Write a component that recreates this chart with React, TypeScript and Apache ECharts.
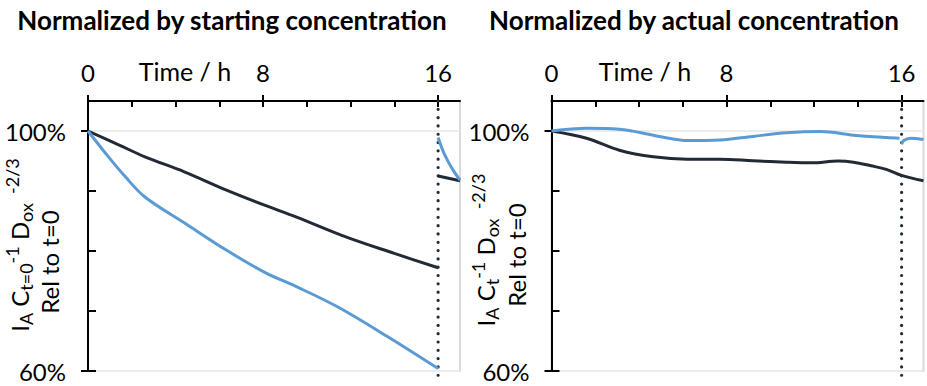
import React, { useEffect, useRef } from "react";
import * as echarts from "echarts";

// ---- data ----
const startDarkT = [0, 1.4, 2.6, 4.4, 6.3, 8.1, 9.5, 11.75, 14.0, 16];
const startDarkV = [100, 97.7, 95.7, 93.2, 90.2, 87.6, 85.7, 82.4, 79.6, 77.2];
const startDarkPostT = [16, 17];
const startDarkPostV = [92.5, 91.7];
const startBlueT = [0, 0.8, 1.7, 2.6, 4.4, 6.3, 8.1, 9.5, 11.4, 13.7, 16];
const startBlueV = [100, 96.3, 92.4, 89.0, 84.7, 80.2, 76.4, 74.1, 70.7, 65.7, 60.4];
const startBluePostT = [16, 16.23, 16.46, 16.7, 17];
const startBluePostV = [98.9, 96.6, 94.9, 93.4, 91.8];

const actualDarkT = [0, 1.6, 3.1, 4.65, 6.2, 7.7, 9.2, 10.75, 11.9, 13.1, 13.8, 14.6, 15.3, 16, 17];
const actualDarkV = [100, 98.8, 96.8, 95.7, 95.3, 95.3, 95.05, 94.8, 94.7, 95.0, 94.8, 94.2, 93.6, 92.6, 91.7];
const actualBlueT = [0, 1.6, 3.1, 4.65, 5.5, 6.2, 7.7, 9.2, 10.75, 12.3, 13.8, 15.3, 15.9];
const actualBlueV = [100, 100.45, 100.3, 99.3, 98.7, 98.4, 98.5, 99.1, 99.7, 99.9, 99.3, 98.9, 98.8];
const actualBluePostT = [16.0, 16.1, 16.4, 17];
const actualBluePostV = [97.8, 98.4, 98.8, 98.6];

const markerT = [16, 16];
const markerV = [105, 58.5];

const xLabelValues = [0, 8, 16];
const xMinorValues = [0, 2, 4, 6, 8, 10, 12, 14, 16];
const yLabelValues = [60, 100];
const yMinorValues = [60, 70, 80, 90];

const titles = ["Normalized by starting concentration", "Normalized by actual concentration"];

const BLUE = "#5b9bd5";
const DARK = "#222a35";
const FONT = "Lato";

const zip = (t: number[], v: number[]) => t.map((x, i) => [x, v[i]]);

export default function App() {
  const ref = useRef<HTMLDivElement>(null);
  useEffect(() => {
    if (!ref.current) return;
    document.body.style.margin = "0";
    const chart = echarts.init(ref.current, null, { renderer: "svg" });
    const gridLefts = [88, 551.5];
    const grids = gridLefts.map((l) => ({
      left: l,
      top: 101,
      width: 372,
      height: 270,
      show: true,
      borderColor: "#d9d9d9",
      borderWidth: 2,
      containLabel: false,
    }));
    const xAxes: any[] = [];
    const yAxes: any[] = [];
    [0, 1].forEach((g) => {
      xAxes.push({
        type: "value",
        gridIndex: g,
        position: "top",
        min: 0,
        max: 17,
        interval: 8,
        axisLine: { show: true, lineStyle: { color: "#000", width: 2 } },
        axisTick: { show: true, inside: false, length: 6, customValues: xLabelValues, lineStyle: { color: "#000", width: 2 } },
        axisLabel: { show: true, customValues: xLabelValues, margin: 17, fontSize: 24, color: "#000", fontFamily: FONT },
        splitLine: { show: false },
      });
      xAxes.push({
        type: "value",
        gridIndex: g,
        position: "top",
        min: 0,
        max: 17,
        interval: 2,
        axisLine: { show: false },
        axisTick: { show: true, inside: true, length: 6, customValues: xMinorValues, lineStyle: { color: "#000", width: 2 } },
        axisLabel: { show: false },
        splitLine: { show: false },
      });
      yAxes.push({
        type: "value",
        gridIndex: g,
        position: "left",
        min: 60,
        max: 105,
        interval: 10,
        axisLine: { show: true, lineStyle: { color: "#000", width: 2 } },
        axisTick: { show: true, inside: false, length: 7, customValues: yLabelValues, lineStyle: { color: "#000", width: 2 } },
        axisLabel: { show: true, customValues: yLabelValues, margin: 22, fontSize: 24, color: "#000", fontFamily: FONT, formatter: (v: number) => `${v}%` },
        splitLine: { show: true, lineStyle: { color: "#ececec", width: 2 } },
      });
      yAxes.push({
        type: "value",
        gridIndex: g,
        position: "left",
        min: 60,
        max: 105,
        interval: 10,
        axisLine: { show: false },
        axisTick: { show: true, inside: true, length: 8, customValues: yMinorValues, lineStyle: { color: "#000", width: 2 } },
        axisLabel: { show: false },
        splitLine: { show: false },
      });
    });

    const line = (g: number, data: number[][], color: string, z = 3) => ({
      type: "line",
      xAxisIndex: g * 2,
      yAxisIndex: g * 2,
      data,
      smooth: 0.35,
      symbol: "none",
      lineStyle: { color, width: 3 },
      z,
    });
    const marker = (g: number) => ({
      type: "line",
      xAxisIndex: g * 2,
      yAxisIndex: g * 2,
      data: zip(markerT, markerV),
      clip: false,
      symbol: "none",
      lineStyle: { color: DARK, width: 3.2, type: [0.01, 8.3], cap: "round" },
      z: 2,
    });

    const series = [
      marker(0),
      line(0, zip(startDarkT, startDarkV), DARK),
      line(0, zip(startBlueT, startBlueV), BLUE),
      line(0, zip(startDarkPostT, startDarkPostV), DARK),
      line(0, zip(startBluePostT, startBluePostV), BLUE, 4),
      marker(1),
      line(1, zip(actualDarkT, actualDarkV), DARK),
      line(1, zip(actualBlueT, actualBlueV), BLUE),
      line(1, zip(actualBluePostT, actualBluePostV), BLUE),
    ];

    const rich = {
      m: { fontSize: 24, fontFamily: FONT, color: "#000", lineHeight: 32 },
      sb: { fontSize: 18, fontFamily: FONT, color: "#000", lineHeight: 20, verticalAlign: "bottom" },
      sp: { fontSize: 18, fontFamily: FONT, color: "#000", lineHeight: 23, verticalAlign: "top" },
    };
    const yTitle = (x: number, y: number, sub: string) => ({
      type: "text",
      x,
      y,
      rotation: Math.PI / 2,
      style: {
        text: `{m|I}{sb|A}{m| C}{sb|${sub}}{sp|-1}{m| D}{sb|ox}{sp|  -2/3}`,
        rich,
        align: "center",
        verticalAlign: "middle",
      },
    });
    const plain = (x: number, y: number, text: string, opts: any = {}) => ({
      type: "text",
      x,
      y,
      rotation: opts.rotation || 0,
      style: {
        text,
        fontSize: opts.fontSize || 24,
        fontWeight: opts.fontWeight || "normal",
        fontFamily: FONT,
        fill: "#000",
        align: "center",
        verticalAlign: "middle",
      },
    });

    chart.setOption({
      animation: false,
      grid: grids,
      xAxis: xAxes,
      yAxis: yAxes,
      series,
      graphic: [
        plain(232, 20, titles[0], { fontWeight: "bold", fontSize: 26 }),
        plain(694, 20, titles[1], { fontWeight: "bold", fontSize: 26 }),
        plain(185, 71, "Time / h", { fontSize: 25 }),
        plain(645, 71, "Time / h", { fontSize: 25 }),
        yTitle(19, 245, "t=0"),
        plain(49, 262, "Rel to t=0", { rotation: Math.PI / 2 }),
        yTitle(485, 250, "t"),
        plain(516, 255, "Rel to t=0", { rotation: Math.PI / 2 }),
      ],
    });
    return () => chart.dispose();
  }, []);
  return <div ref={ref} style={{ width: 927, height: 386 }} />;
}
